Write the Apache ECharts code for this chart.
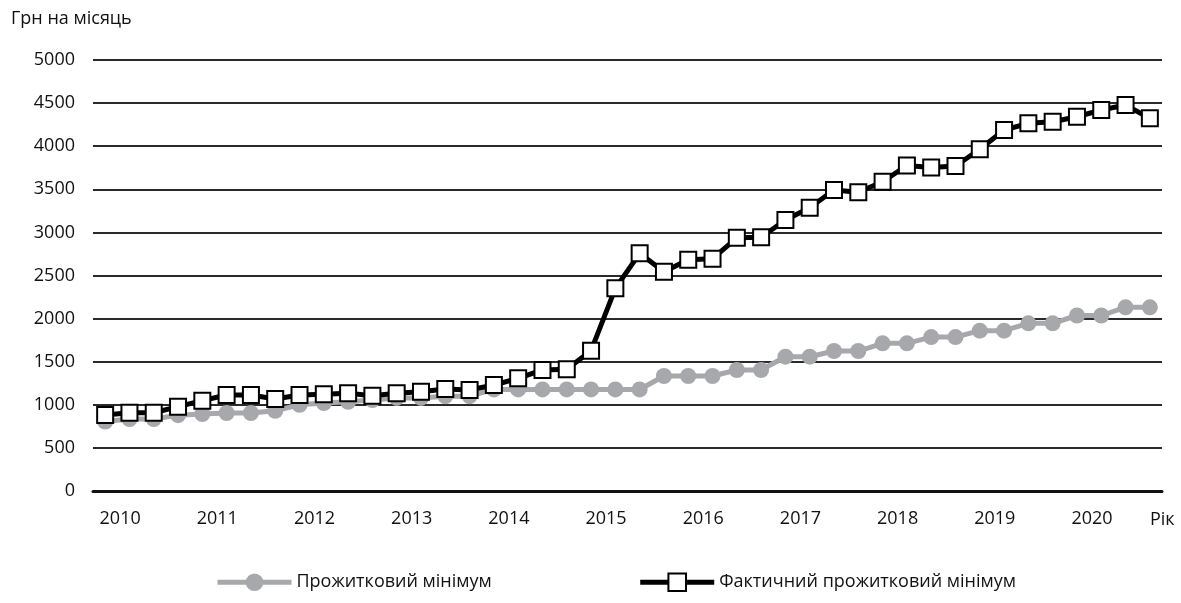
<!DOCTYPE html>
<html>
<head>
<meta charset="utf-8">
<script src="https://cdn.jsdelivr.net/npm/echarts@6/dist/echarts.min.js"></script>
<style>
  html, body { margin: 0; padding: 0; background: #fff; }
  #chart { width: 1181px; height: 603px; }
</style>
</head>
<body>
<div id="chart"></div>
<script>
// роки та квартали
const years = ['2010', '2011', '2012', '2013', '2014', '2015', '2016', '2017', '2018', '2019', '2020']
const quarters = ['I', 'II', 'III', 'IV']
const yTicks = [0, 500, 1000, 1500, 2000, 2500, 3000, 3500, 4000, 4500, 5000]

// Прожитковий мінімум, грн на місяць (по кварталах)
const subsistenceMin = [
  805, 835, 835, 880,
  893, 905, 905, 930,
  1000, 1020, 1035, 1055,
  1080, 1080, 1100, 1100,
  1178, 1178, 1178, 1178,
  1178, 1178, 1178, 1334,
  1334, 1334, 1404, 1404,
  1558, 1558, 1624, 1624,
  1713, 1713, 1786, 1786,
  1860, 1860, 1945, 1945,
  2036, 2036, 2131, 2131,
]

// Фактичний прожитковий мінімум, грн на місяць
const actualMin = [
  882, 908, 908, 978,
  1048, 1114, 1114, 1067,
  1114, 1122, 1133, 1105,
  1133, 1152, 1183, 1172,
  1230, 1307, 1404, 1412,
  1628, 2351, 2757, 2544,
  2684, 2695, 2937, 2943,
  3144, 3287, 3492, 3465,
  3588, 3776, 3752, 3771,
  3964, 4188, 4265, 4284,
  4342, 4420, 4478, 4323,
]

const categories = []
years.forEach(y => quarters.forEach(q => categories.push(q + ' ' + y)))

const font = 'Open Sans'
const fs = 18
const chart = echarts.init(document.getElementById('chart'))

chart.setOption({
  animation: false,
  backgroundColor: '#fff',
  textStyle: { fontFamily: font, color: '#000' },
  title: {
    text: 'Грн на місяць',
    left: 6,
    top: 5,
    textStyle: { fontFamily: font, fontSize: fs, fontWeight: 'normal', color: '#111' },
  },
  grid: { left: 93, right: 19, top: 60, bottom: 112 },
  legend: {
    bottom: 6,
    left: 210,
    itemWidth: 74,
    itemHeight: 22,
    itemGap: 146,
    lineStyle: { width: 5 },
    textStyle: { fontFamily: font, fontSize: fs, color: '#111' },
    data: ['Прожитковий мінімум', 'Фактичний прожитковий мінімум'],
  },
  xAxis: {
    type: 'category',
    data: categories,
    boundaryGap: true,
    name: 'Рік',
    nameLocation: 'end',
    nameGap: -12,
    nameTextStyle: {
      fontFamily: font, fontSize: fs, color: '#111',
      align: 'left', verticalAlign: 'top', padding: [20, 0, 0, 0],
    },
    axisLine: { show: true, lineStyle: { color: '#111', width: 3 } },
    axisTick: { show: false },
    axisLabel: {
      interval: 3,
      margin: 19,
      fontFamily: font,
      fontSize: fs,
      color: '#111',
      padding: [0, 0, 0, 30],
      formatter: v => v.split(' ')[1],
    },
  },
  yAxis: {
    type: 'value',
    min: yTicks[0],
    max: yTicks[yTicks.length - 1],
    interval: 500,
    axisLine: { show: false },
    axisTick: { show: false },
    axisLabel: {
      margin: 18, fontFamily: font, fontSize: fs, color: '#111',
      formatter: v => String(v),
    },
    splitLine: { lineStyle: { color: '#2a2a2a', width: 2 } },
  },
  series: [
    {
      name: 'Прожитковий мінімум',
      type: 'line',
      data: subsistenceMin,
      symbol: 'circle',
      symbolSize: 16,
      lineStyle: { color: '#a7a8ab', width: 5 },
      itemStyle: { color: '#a7a8ab', borderWidth: 0 },
      z: 2,
    },
    {
      name: 'Фактичний прожитковий мінімум',
      type: 'line',
      data: actualMin,
      symbol: 'rect',
      symbolSize: 16,
      lineStyle: { color: '#000', width: 5 },
      itemStyle: { color: '#fff', borderColor: '#000', borderWidth: 2 },
      z: 3,
    },
  ],
})
</script>
</body>
</html>
